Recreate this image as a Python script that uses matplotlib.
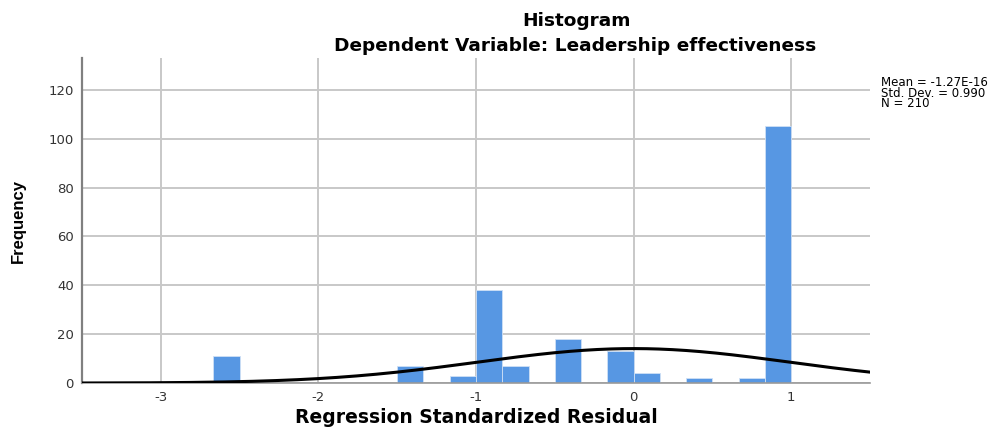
import numpy as np
import matplotlib
matplotlib.use("Agg")
import matplotlib.pyplot as plt

plt.rcParams['font.family'] = ['DejaVu Sans']

# histogram bins (left edges) and counts, bin width 1/6
bin_width = 1 / 6
bin_left = [-2.667, -1.5, -1.167, -1.0, -0.833, -0.5, -0.167, 0.0, 0.333, 0.667, 0.833]
counts = [11, 7, 3, 38, 7, 18, 13, 4, 2, 2, 105]

mean_val = -1.27e-16
std_val = 0.990
n_val = 210

x_ticks = [-3, -2, -1, 0, 1]
y_ticks = [0, 20, 40, 60, 80, 100, 120]

fig = plt.figure(figsize=(10, 4.28), dpi=100)
ax = fig.add_axes([0.082, 0.105, 0.788, 0.7595])

ax.set_axisbelow(True)
ax.grid(True, color='#c8c8c8', linewidth=1.4)

ax.bar(bin_left, counts, width=bin_width, align='edge',
       color='#5797e3', edgecolor='#cfe0f5', linewidth=0.6, zorder=2)

# normal curve scaled to counts
xs = np.linspace(-3.5, 1.5, 400)
pdf = np.exp(-0.5 * ((xs - mean_val) / std_val) ** 2) / (std_val * np.sqrt(2 * np.pi))
ax.plot(xs, n_val * bin_width * pdf, color='black', linewidth=2.2, zorder=3)

ax.set_xlim(-3.5, 1.5)
ax.set_ylim(0, 133)
ax.set_xticks(x_ticks)
ax.set_xticklabels([str(t) for t in x_ticks])
ax.set_yticks(y_ticks)
ax.tick_params(length=0, labelsize=9.5, labelcolor='#333333', pad=6)

for s in ['top', 'right']:
    ax.spines[s].set_visible(False)
ax.spines['left'].set_color('#808080')
ax.spines['left'].set_linewidth(1.6)
ax.spines['bottom'].set_color('#999999')
ax.spines['bottom'].set_linewidth(1.2)

ax.set_xlabel('Regression Standardized Residual', fontsize=13.5, fontweight='bold', va='center')
ax.xaxis.set_label_coords(0.5, -0.105)
ax.set_ylabel('Frequency', fontsize=12, fontweight='bold', va='center',
              family=['Liberation Sans', 'DejaVu Sans'])
ax.yaxis.set_label_coords(-0.081, 0.5)

fig.text(0.576, 0.952, 'Histogram', ha='center', va='center', fontsize=13.3, fontweight='bold')
fig.text(0.575, 0.893, 'Dependent Variable: Leadership effectiveness', ha='center', va='center',
         fontsize=13.3, fontweight='bold')

stats_text = 'Mean = -1.27E-16\nStd. Dev. = 0.990\nN = 210'
fig.text(0.881, 0.822, stats_text, ha='left', va='top', fontsize=8.5, linespacing=0.75)

fig.savefig('out.png', dpi=100)
